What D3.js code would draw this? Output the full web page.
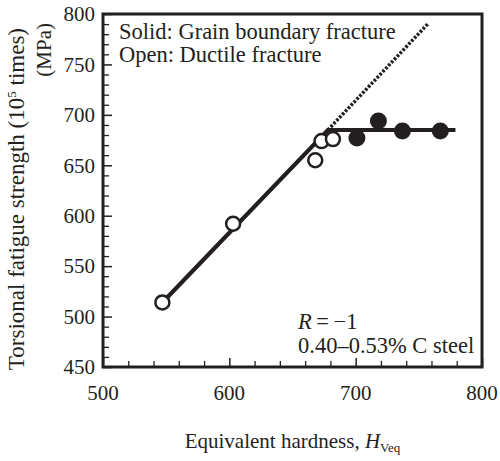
<!DOCTYPE html>
<html><head><meta charset="utf-8">
<script src="https://cdn.jsdelivr.net/npm/d3@7"></script>
<style>body{margin:0;background:#fff}svg{display:block}svg text{font-family:"Liberation Serif","Times New Roman","DejaVu Serif",serif;fill:#231f20}</style>
</head><body><svg id="c" width="500" height="461"></svg>
<script>
const openHardness = [547, 603, 668, 673, 682];
const openStrength = [514, 592, 655, 674, 676];
const solidHardness = [701, 718, 737, 767];
const solidStrength = [677, 694, 684, 684];
const fitHardness = [547, 678, 779];
const fitStrength = [514, 685, 685];
const extHardness = [678, 757];
const extStrength = [685, 790];
const xTicks = [500, 600, 700, 800];
const yTicks = [450, 500, 550, 600, 650, 700, 750, 800];

const svg = d3.select("#c");
const FF = "Liberation Serif, Times New Roman, serif";
const L = 103, R = 482, T = 14, B = 367;
const x = d3.scaleLinear().domain([500, 800]).range([L, R]);
const y = d3.scaleLinear().domain([450, 800]).range([B, T]);
const ink = "#231f20";
const FS = 21;

// minor ticks
const yMinor = d3.range(460, 800, 10).filter(v => v % 50 !== 0);
const xMinor = d3.range(520, 800, 20).filter(v => v % 100 !== 0);
svg.append("g").attr("transform", `translate(${L},0)`)
  .call(d3.axisRight(y).tickValues(yMinor).tickSize(6).tickFormat(""))
  .call(g => g.select(".domain").remove())
  .call(g => g.selectAll("line").attr("stroke", ink).attr("stroke-width", 1.3));
svg.append("g").attr("transform", `translate(0,${B})`)
  .call(d3.axisTop(x).tickValues(xMinor).tickSize(6).tickFormat(""))
  .call(g => g.select(".domain").remove())
  .call(g => g.selectAll("line").attr("stroke", ink).attr("stroke-width", 1.3));
// major ticks
svg.append("g").attr("transform", `translate(${L},0)`)
  .call(d3.axisRight(y).tickValues(yTicks).tickSize(9).tickFormat(""))
  .call(g => g.select(".domain").remove())
  .call(g => g.selectAll("line").attr("stroke", ink).attr("stroke-width", 1.5));
svg.append("g").attr("transform", `translate(0,${B})`)
  .call(d3.axisTop(x).tickValues(xTicks).tickSize(9).tickFormat(""))
  .call(g => g.select(".domain").remove())
  .call(g => g.selectAll("line").attr("stroke", ink).attr("stroke-width", 1.5));

// tick labels
svg.append("g").selectAll("text").data(yTicks).join("text")
  .attr("font-family", FF)
  .attr("x", L - 8).attr("y", d => y(d)).attr("dy", "0.35em")
  .attr("text-anchor", "end").attr("font-size", FS).text(d => d);
svg.append("g").selectAll("text").data(xTicks).join("text")
  .attr("font-family", FF)
  .attr("x", d => x(d)).attr("y", 393).attr("dy", "0.35em")
  .attr("text-anchor", "middle").attr("font-size", FS).text(d => d);

// frame
svg.append("rect").attr("x", L).attr("y", T).attr("width", R - L).attr("height", B - T)
  .attr("fill", "none").attr("stroke", ink).attr("stroke-width", 3);

// lines
const line = d3.line().x(d => x(d[0])).y(d => y(d[1]));
svg.append("path").datum(d3.zip(extHardness, extStrength)).attr("d", line)
  .attr("fill", "none").attr("stroke", ink).attr("stroke-width", 3.5).attr("stroke-dasharray", "2.6,1.6");
svg.append("path").datum(d3.zip(fitHardness, fitStrength)).attr("d", line)
  .attr("fill", "none").attr("stroke", ink).attr("stroke-width", 4.2).attr("stroke-linejoin", "miter");

// points
svg.append("g").selectAll("circle").data(d3.zip(openHardness, openStrength)).join("circle")
  .attr("cx", d => x(d[0])).attr("cy", d => y(d[1])).attr("r", 7)
  .attr("fill", "#fff").attr("stroke", ink).attr("stroke-width", 2.5);
svg.append("g").selectAll("circle").data(d3.zip(solidHardness, solidStrength)).join("circle")
  .attr("cx", d => x(d[0])).attr("cy", d => y(d[1])).attr("r", 8.5)
  .attr("fill", ink);

// legend text
svg.append("text").attr("font-family", FF).attr("x", 119).attr("y", 39).attr("font-size", 22.5).text("Solid: Grain boundary fracture");
svg.append("text").attr("font-family", FF).attr("x", 119).attr("y", 62).attr("font-size", 22.5).text("Open: Ductile fracture");

// annotation
const t1 = svg.append("text").attr("font-family", FF).attr("x", 298).attr("y", 329).attr("font-size", 22.5);
t1.append("tspan").attr("font-style", "italic").text("R");
t1.append("tspan").text("\u2009=\u2009\u22121");
svg.append("text").attr("font-family", FF).attr("x", 298).attr("y", 353).attr("font-size", 22.5).text("0.40\u20130.53% C steel");

// axis titles
const xt = svg.append("text").attr("font-family", FF).attr("x", (L + R) / 2).attr("y", 448).attr("text-anchor", "middle").attr("font-size", FS);
xt.append("tspan").text("Equivalent hardness, ");
xt.append("tspan").attr("font-style", "italic").text("H");
xt.append("tspan").attr("font-size", 13).attr("dy", 4).text("Veq");

const yt = svg.append("g").attr("transform", "rotate(-90)");
const yl1 = yt.append("text").attr("font-family", FF).attr("x", -28).attr("y", 24).attr("text-anchor", "end").attr("font-size", 23);
yl1.append("tspan").text("Torsional fatigue strength (10");
yl1.append("tspan").attr("font-size", 13).attr("dy", -8).text("5");
yl1.append("tspan").attr("dy", 8).text(" times)");
yt.append("text").attr("font-family", FF).attr("x", -23).attr("y", 51).attr("text-anchor", "end").attr("font-size", 21).text("(MPa)");
</script></body></html>
